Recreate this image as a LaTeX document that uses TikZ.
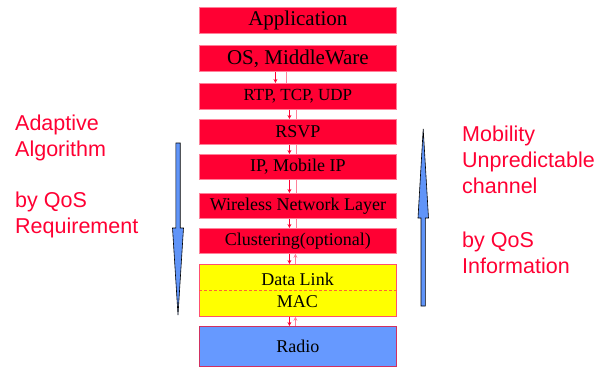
\documentclass[tikz,border=0pt]{standalone}
\usepackage{fontspec}
\setmainfont{Liberation Serif}
\newfontfamily\arialfont{Liberation Sans}
\usetikzlibrary{arrows.meta}
\definecolor{boxred}{HTML}{FF0033}
\definecolor{boxedge}{HTML}{FF8099}
\definecolor{uppink}{HTML}{FF8099}
\definecolor{dlyellow}{HTML}{FFFF00}
\definecolor{dledge}{HTML}{FF5070}
\definecolor{radioblue}{HTML}{6699FF}
\definecolor{radioedge}{HTML}{D03060}
\definecolor{sidered}{HTML}{FF0033}
\definecolor{dashor}{HTML}{FF6633}
\definecolor{bigblue}{HTML}{6094F8}
\begin{document}
\begin{tikzpicture}[x=1pt,y=-1pt,
  layer/.style={draw=boxedge, line width=0.8pt, fill=boxred, minimum width=197pt,
    inner sep=0pt, anchor=north west, font=\fontsize{18}{18}\selectfont},
  bigtext/.style={font=\fontsize{21}{21}\selectfont},
  downarr/.style={draw=boxred, line width=0.7pt, -{Stealth[length=4pt,width=4pt]}},
  upline/.style={draw=uppink, line width=0.7pt},
  uparr/.style={draw=uppink, line width=0.7pt, -{Stealth[length=4pt,width=4pt]}},
  sidetext/.style={anchor=base west, inner sep=0pt, text=sidered,
    font=\arialfont\fontsize{21.5}{21.5}\selectfont},
  fatarrow/.style={draw=black, line width=0.6pt, fill=bigblue, line join=miter}]
\useasboundingbox (0,0) rectangle (614,367);

% layers
\node[layer, bigtext, minimum height=26pt] (app) at (199,7) {Application};
\node[layer, bigtext, minimum height=26pt] (os) at (199,45) {OS, MiddleWare};
\node[layer, minimum height=26pt, font=\fontsize{17}{17}\selectfont] (rtp) at (199,83) {RTP, TCP, UDP};
\node[layer, minimum height=25pt] (rsvp) at (199,119) {RSVP};
\node[layer, minimum height=25pt] (ip) at (199,154) {IP, Mobile IP};
\node[layer, minimum height=25pt] (wnl) at (199,193) {Wireless Network Layer};
\node[layer, minimum height=25pt] (clu) at (199,228) {Clustering(optional)};
\node[layer, draw=dledge, fill=dlyellow, minimum height=52pt] (dl) at (199,264) {};
\node[layer, draw=radioedge, fill=radioblue, minimum height=40pt] (radio) at (199,326) {Radio};

\draw[draw=dashor, line width=0.8pt, dash pattern=on 3pt off 2pt] (dl.west) -- (dl.east);
\node[anchor=base, inner sep=0pt, font=\fontsize{18}{18}\selectfont] (datalink) at (297.5,285) {Data Link};
\node[anchor=base, inner sep=0pt, font=\fontsize{18}{18}\selectfont] (mac) at (297.5,307.5) {MAC};

% arrows between layers
\draw[downarr] ([xshift=-22.5pt]os.south) -- ([xshift=-22.5pt]rtp.north);
\draw[upline] ([xshift=-11.5pt]rtp.north) -- ([xshift=-11.5pt]os.south);
\foreach \a/\b in {rtp/rsvp, rsvp/ip, ip/wnl, wnl/clu}{
  \draw[downarr] ([xshift=-8.5pt]\a.south) -- ([xshift=-8.5pt]\b.north);
  \draw[upline] ([xshift=-2pt]\b.north) -- ([xshift=-2pt]\a.south);
}
\draw[downarr] ([xshift=-8.5pt]clu.south) -- ([xshift=-8.5pt]dl.north);
\draw[uparr] ([xshift=-2.5pt]dl.north) -- ([xshift=-2.5pt]clu.south);
\draw[downarr] ([xshift=-8.5pt]dl.south) -- ([xshift=-8.5pt]radio.north);
\draw[uparr] ([xshift=-2.5pt]radio.north) -- ([xshift=-2.5pt]dl.south);

% big blue arrows
\draw[fatarrow] (175.8,143) -- (180.2,143) -- (180.2,228) -- (183.5,228) -- (178,315)
  -- (172.5,228) -- (175.8,228) -- cycle;
\draw[fatarrow] (421,306) -- (425.4,306) -- (425.4,218) -- (428.5,218) -- (423.2,129)
  -- (418,218) -- (421,218) -- cycle;

% side texts
\node[sidetext] (l1) at (15,130) {Adaptive};
\node[sidetext] (l2) at (15,156) {Algorithm};
\node[sidetext] (l3) at (15,207) {by QoS};
\node[sidetext] (l4) at (15,233) {Requirement};
\node[sidetext] (r1) at (462,141) {Mobility};
\node[sidetext] (r2) at (462,167) {Unpredictable};
\node[sidetext] (r3) at (462,193) {channel};
\node[sidetext] (r4) at (462,247) {by QoS};
\node[sidetext] (r5) at (462,273) {Information};
\end{tikzpicture}
\end{document}
